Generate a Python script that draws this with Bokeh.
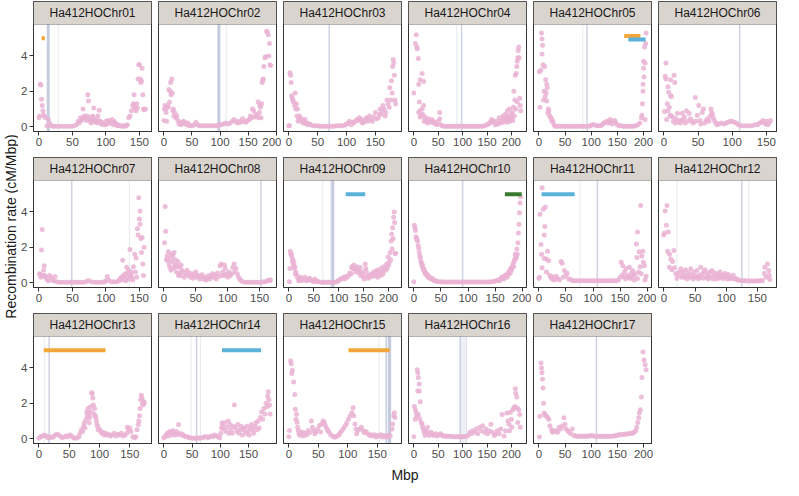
import math
from bokeh.plotting import figure
from bokeh.models import Range1d, FixedTicker, Span, BoxAnnotation, Label, ColumnDataSource
from bokeh.layouts import row, column
from bokeh.embed import file_html
from bokeh.resources import INLINE

chrom_names = ["Ha412HOChr%02d" % i for i in range(1, 18)]
chrom_len = [160, 191, 186, 220, 205, 157, 160, 168, 215, 198, 198, 172, 177, 190, 182, 220, 205]

chr01 = [(0,.5),(1,.6),(2,2.4),(3,2.35),(4,1.55),(5,1.2),(6,.9),(7,.65),(8,.6),(10,.5),(12,.05),(14,.4),(16,.2),(18,.05),(21,.02),(24,.02),(28,.02),(32,.02),(36,.02),(40,.02),(44,.02),(48,.02),(52,.03),(56,.1),(59,.3),(60,.2),(62,.5),(63,.35),(64,.4),(65,.45),(66,1.0),(67,.55),(68,.6),(69,.45),(70,.5),(71,.35),(72,.6),(73,1.8),(74,1.45),(75,.4),(76,.5),(77,.3),(78,.2),(79,.35),(80,.6),(81,.5),(82,1.05),(83,.3),(84,.4),(85,.25),(86,.3),(87,.2),(88,.6),(89,.35),(90,.92),(91,.25),(92,.3),(93,.15),(94,.2),(95,.2),(97,.1),(99,.1),(100,.3),(102,.15),(103,.35),(105,.3),(106,.2),(108,.25),(109,.4),(111,.1),(112,.3),(114,.2),(115,.15),(117,.05),(118,.1),(120,.05),(122,.05),(124,.02),(126,.05),(128,.02),(130,.05),(132,.1),(134,.5),(136,.6),(138,.9),(140,1.2),(141,1.3),(142,1.8),(143,1.1),(144,1.0),(145,.9),(146,1.3),(147,1.05),(148,2.7),(149,3.5),(150,3.5),(151,2.7),(152,2.5),(153,2.6),(154,3.3),(155,1.8),(156,1.0),(157,.95),(159,1.0)]
chr02 = [(0,.35),(1,1.0),(2,1.2),(3,1.0),(4,.8),(5,.3),(7,1.2),(8,1.1),(9,2.1),(10,1.4),(11,2.0),(12,2.5),(13,1.8),(14,2.7),(15,1.9),(16,.9),(17,1.0),(18,.6),(20,.75),(21,.5),(23,.6),(25,.35),(27,.15),(29,.25),(31,.1),(33,.2),(35,.3),(37,.25),(39,.15),(41,.1),(43,.2),(45,.05),(48,.05),(51,.05),(54,.1),(57,.25),(60,.1),(63,.05),(66,.05),(70,.05),(74,.05),(78,.05),(82,.05),(86,.05),(90,.05),(94,.05),(98,.1),(102,.1),(106,.15),(110,.2),(114,.15),(118,.2),(122,.3),(125,.4),(128,.3),(131,.2),(134,.3),(137,.25),(140,.45),(143,.3),(146,.25),(149,.35),(152,.4),(154,.6),(156,.5),(158,1.0),(160,.9),(162,.55),(164,.7),(166,.6),(168,1.4),(169,.5),(170,.8),(171,1.2),(172,1.1),(173,.5),(174,1.3),(175,2.5),(176,2.65),(177,2.7),(178,3.4),(180,3.9),(181,3.95),(183,5.4),(184,5.35),(186,5.2),(187,4.0),(188,4.7),(189,3.5),(190,3.45)]
chr03 = [(0,.05),(1,.05),(2,3.05),(3,2.9),(4,2.5),(5,1.75),(6,1.6),(7,1.5),(8,1.4),(10,1.2),(11,1.9),(12,1.0),(13,1.3),(14,.6),(15,1.0),(16,.3),(17,.45),(18,.6),(20,.5),(22,.3),(24,.4),(25,.2),(27,.25),(28,.4),(30,.15),(32,.2),(34,.1),(36,.15),(38,.1),(42,.05),(46,.05),(50,.05),(54,.02),(58,.02),(62,.02),(66,.02),(70,.02),(74,.02),(78,.02),(82,.05),(86,.05),(90,.05),(94,.05),(98,.1),(100,.15),(103,.2),(105,.3),(108,.1),(110,.25),(112,.2),(115,.3),(118,.4),(120,.35),(122,.5),(124,.45),(125,.4),(127,.25),(128,.2),(130,.35),(132,.3),(134,.45),(135,.5),(137,.3),(140,.6),(142,.4),(145,.3),(147,.55),(150,.8),(152,.45),(155,.5),(157,.7),(158,1.0),(160,.7),(162,.9),(163,1.2),(165,1.0),(167,.6),(168,.8),(170,1.5),(172,1.3),(174,1.1),(175,2.2),(177,1.5),(178,2.6),(179,1.9),(180,3.4),(181,3.8),(182,3.6),(183,2.9),(184,1.5),(185,1.3)]
chr04 = [(0,1.9),(3,4.7),(5,5.2),(6,4.5),(7,4.4),(9,3.85),(10,2.4),(10,.8),(11,1.4),(12,.9),(13,2.65),(13,.55),(15,.6),(17,3.0),(17,1.0),(18,.7),(20,2.55),(20,1.2),(21,.3),(23,.55),(25,.4),(27,.35),(28,.2),(30,.45),(32,.3),(34,.25),(37,.4),(39,.3),(41,.2),(43,.25),(45,.15),(47,.1),(50,.3),(53,.8),(53,.45),(55,.1),(58,.05),(62,.02),(66,.02),(70,.02),(74,.02),(78,.02),(82,.02),(86,.02),(90,.02),(94,.02),(98,.02),(102,.02),(106,.02),(110,.02),(114,.02),(118,.02),(122,.02),(126,.02),(130,.02),(134,.02),(138,.02),(142,.02),(146,.05),(150,.1),(153,.15),(155,.2),(158,.3),(160,.4),(162,.25),(164,.3),(167,.1),(170,.3),(172,.15),(175,.5),(177,.3),(178,.2),(180,.35),(182,.25),(183,.6),(185,.3),(187,.45),(188,.7),(190,.4),(191,.25),(192,.9),(193,.6),(194,.5),(196,1.0),(197,.3),(198,.4),(200,.7),(201,.5),(202,.8),(203,.35),(204,1.1),(205,2.0),(206,.6),(207,1.5),(208,2.9),(209,1.0),(210,3.0),(211,3.4),(212,3.7),(212,1.4),(213,3.9),(214,4.3),(215,4.5),(216,3.9),(217,1.6),(218,1.2),(219,.9)]
chr05 = [(1,3.1),(2,1.1),(4,3.2),(5,5.3),(6,4.95),(6,4.1),(7,4.6),(8,3.5),(9,1.5),(10,2.0),(11,3.4),(12,1.7),(13,2.65),(14,1.9),(15,2.4),(15,1.45),(16,2.2),(17,.8),(18,1.0),(19,.9),(20,.65),(22,.55),(24,.45),(25,.3),(27,.3),(29,.1),(31,.02),(35,.02),(39,.02),(43,.02),(47,.02),(51,.02),(55,.02),(59,.02),(63,.02),(67,.02),(71,.02),(75,.02),(79,.02),(83,.02),(87,.02),(91,.02),(95,.02),(99,.05),(102,.1),(106,.1),(110,.05),(114,.05),(118,.05),(121,.1),(124,.2),(127,.25),(130,.3),(132,.2),(134,.25),(136,.4),(138,.3),(140,.15),(142,.3),(145,.35),(147,.2),(150,.1),(153,.05),(157,.05),(161,.02),(165,.02),(169,.02),(173,.02),(177,.02),(181,.02),(185,.05),(189,.1),(193,.2),(196,.5),(197,.65),(198,1.3),(199,2.0),(199,2.4),(200,3.3),(200,3.7),(201,2.8),(202,4.5),(203,3.6),(203,.4),(204,4.7),(205,5.3)]
chr06 = [(1,.85),(2,2.85),(3,3.6),(3,2.7),(4,.4),(5,1.3),(6,2.25),(6,.9),(7,1.95),(8,1.1),(9,.6),(10,2.65),(10,1.75),(10,.65),(11,1.7),(13,.55),(14,.3),(15,2.9),(16,2.5),(17,.2),(18,.45),(20,.75),(22,.3),(24,.2),(25,.35),(27,.75),(28,.4),(30,.55),(31,.2),(33,.9),(35,.3),(37,.75),(39,.45),(41,.3),(43,.2),(46,1.65),(47,.3),(49,.65),(51,1.2),(53,.35),(54,.15),(56,.8),(58,1.0),(60,.2),(62,.35),(64,.45),(66,.3),(68,.6),(69,1.0),(70,.8),(71,.7),(72,.5),(74,.35),(76,.2),(78,.1),(81,.15),(84,.2),(88,.15),(91,.2),(94,.25),(97,.3),(100,.3),(103,.25),(106,.2),(109,.1),(113,.05),(117,.05),(121,.05),(125,.05),(129,.05),(133,.1),(137,.1),(140,.2),(143,.25),(145,.35),(147,.2),(149,.15),(150,.3),(152,.1),(154,.2),(156,.35)]
chr07 = [(1,.5),(2,.45),(3,.3),(4,1.85),(5,3.0),(6,.4),(7,.7),(8,.95),(9,.4),(10,.3),(12,.2),(14,.1),(16,.4),(18,.3),(20,.15),(22,.1),(24,.35),(26,.05),(30,.02),(34,.02),(38,.02),(42,.02),(46,.02),(50,.02),(54,.02),(58,.02),(62,.02),(66,.02),(70,.05),(74,.12),(78,.05),(82,.02),(86,.02),(90,.02),(94,.02),(98,.05),(100,.1),(102,.35),(104,.15),(108,.05),(112,.05),(116,.05),(119,.1),(121,.2),(123,.3),(124,.15),(125,1.27),(126,.4),(128,.2),(129,.5),(130,.1),(131,.87),(132,.3),(133,.55),(134,.7),(135,.2),(136,1.87),(137,.45),(138,.6),(139,.3),(140,.15),(141,.9),(143,1.6),(144,.6),(145,1.4),(146,.3),(147,3.05),(148,2.7),(149,4.8),(150,3.6),(151,4.05),(151,3.3),(152,2.5),(153,1.7),(154,2.55),(155,1.05),(156,.4),(157,2.0)]
chr08 = [(1,2.25),(2,4.3),(3,2.9),(4,1.3),(5,1.5),(6,1.3),(7,1.75),(8,1.1),(9,.9),(10,1.4),(11,.7),(12,1.6),(13,1.2),(14,1.5),(15,.8),(16,1.7),(17,1.0),(18,1.3),(19,1.0),(20,.6),(21,.9),(22,1.2),(23,.4),(24,.5),(25,.9),(26,.4),(27,1.0),(28,.7),(30,.6),(32,.3),(34,.5),(36,.7),(38,.4),(40,.55),(42,.3),(44,.5),(46,.25),(48,.45),(50,.6),(52,.3),(54,.4),(56,.2),(58,.35),(60,.45),(62,.2),(64,.3),(66,.15),(68,.25),(70,.4),(72,.2),(74,.35),(76,.5),(78,.3),(80,.45),(82,.2),(84,.55),(86,.35),(88,.95),(90,1.05),(91,.4),(92,.6),(94,.4),(95,1.0),(96,.8),(98,.5),(100,.3),(102,.6),(104,.4),(106,.5),(108,.85),(110,1.05),(111,.6),(113,.8),(115,.5),(117,.3),(119,.2),(121,.1),(124,.05),(128,.02),(132,.02),(136,.02),(140,.02),(144,.02),(148,.02),(152,.02),(156,.05),(159,.05),(162,.1),(164,.15),(166,.1),(167,.15)]
chr09 = [(1,.05),(2,.8),(3,1.77),(4,1.6),(5,1.6),(6,1.45),(7,1.2),(8,1.3),(9,1.0),(10,1.15),(11,.8),(12,.9),(13,.5),(14,.6),(16,.4),(18,.25),(20,.1),(21,.15),(23,.3),(25,.1),(27,.2),(29,.15),(32,.3),(35,.1),(38,.15),(40,.2),(42,.25),(45,.1),(47,.1),(50,.05),(52,.2),(55,.1),(57,.05),(60,.05),(64,.02),(68,.02),(72,.02),(76,.02),(80,.02),(84,.02),(88,.02),(92,.02),(96,.05),(99,.1),(101,.15),(104,.2),(107,.25),(110,.3),(112,.2),(114,.35),(117,.3),(120,.4),(122,.55),(125,.5),(126,.85),(127,.9),(129,.8),(130,1.0),(131,.75),(133,.8),(134,.6),(136,.9),(138,.75),(140,.7),(141,.55),(143,.85),(144,.4),(146,.6),(148,.5),(149,.35),(151,.2),(153,1.05),(154,.8),(155,.65),(157,.4),(159,.25),(161,.3),(163,.45),(166,.5),(168,.35),(170,.6),(172,.45),(174,.4),(175,.65),(177,.7),(178,.3),(180,.5),(182,.6),(184,.8),(185,.4),(187,.6),(189,.5),(190,.9),(192,.75),(194,.7),(196,1.05),(197,.8),(199,1.45),(200,1.0),(201,1.15),(203,1.7),(204,1.3),(205,2.35),(206,2.75),(207,1.9),(208,3.1),(209,2.5),(210,3.7),(211,4.0),(212,3.4),(213,1.65),(214,1.65)]
chr10 = [(0,.05),(1,3.25),(2,3.1),(3,2.95),(4,2.6),(5,2.5),(6,2.4),(7,2.35),(8,2.1),(9,1.95),(10,1.7),(11,1.5),(12,1.4),(13,1.2),(14,1.1),(15,.95),(16,1.0),(17,.8),(18,.7),(19,.75),(20,.6),(21,.5),(22,.55),(24,.4),(25,.45),(26,.3),(28,.35),(30,.25),(32,.2),(34,.25),(36,.15),(38,.1),(40,.1),(42,.08),(45,.05),(49,.05),(53,.03),(57,.03),(61,.03),(65,.03),(69,.03),(73,.03),(77,.03),(81,.03),(85,.03),(89,.03),(93,.03),(97,.03),(101,.03),(105,.03),(109,.03),(113,.03),(117,.03),(121,.03),(125,.03),(129,.03),(133,.03),(137,.03),(141,.05),(145,.05),(149,.08),(152,.1),(155,.15),(158,.1),(160,.2),(162,.3),(164,.3),(166,.2),(168,.4),(170,.45),(172,.3),(173,.4),(175,.6),(176,.5),(177,.7),(178,.55),(179,.8),(180,.7),(181,.85),(182,.9),(183,1.05),(184,.9),(185,1.2),(186,1.3),(187,1.6),(188,1.45),(189,1.4),(190,1.9),(191,1.6),(192,2.25),(193,2.8),(194,3.3),(195,3.95),(196,4.5),(197,4.85)]
chr11 = [(0,.24),(1,.3),(2,3.87),(4,2.15),(5,1.6),(6,5.36),(6,.84),(8,4.15),(10,2.7),(10,1.36),(11,3.18),(12,4.27),(14,1.33),(14,.6),(16,1.78),(18,1.24),(20,.42),(22,.3),(24,.2),(26,.33),(28,.15),(30,.2),(32,.36),(35,.24),(38,.15),(41,1.2),(43,1.09),(45,.3),(47,.69),(50,.42),(52,.55),(55,.2),(59,.18),(63,.1),(67,.1),(71,.1),(75,.1),(79,.1),(83,.1),(87,.1),(91,.1),(95,.1),(99,.1),(103,.1),(107,.1),(111,.1),(115,.1),(119,.1),(123,.1),(127,.1),(131,.1),(135,.1),(139,.1),(143,.1),(147,.15),(150,.3),(152,1.15),(154,.42),(155,.96),(157,.3),(158,.6),(160,.2),(161,.78),(163,.4),(165,.3),(167,.87),(169,.24),(170,.51),(172,.3),(173,.69),(175,.42),(176,.15),(178,.5),(180,2.18),(181,1.42),(182,2.87),(182,.24),(184,.6),(185,1.75),(187,.9),(188,4.36),(189,.5),(190,1.5),(192,1.78),(193,1.15),(195,.96),(196,.15),(198,.36)]
chr12 = [(0,2.7),(1,2.8),(2,4.05),(4,3.24),(5,4.36),(6,1.78),(7,2.87),(9,1.6),(9,.87),(11,1.33),(13,.73),(14,1.2),(16,1.82),(17,.84),(19,.51),(21,.24),(23,.4),(25,.6),(27,.78),(29,.3),(30,.42),(32,.6),(34,.3),(35,.73),(37,.2),(38,.42),(40,.55),(42,.3),(43,.78),(45,.42),(47,.2),(48,.6),(50,.3),(51,.36),(53,.69),(55,.2),(56,.42),(58,.3),(59,.87),(61,.47),(63,.25),(64,.6),(66,.73),(68,.3),(69,.51),(71,.2),(72,.36),(74,.6),(76,.3),(77,.69),(79,.2),(80,.42),(82,.55),(84,.2),(85,.33),(87,.47),(88,.25),(90,.6),(92,.3),(93,.42),(95,.24),(97,.3),(98,.51),(100,.36),(102,.2),(103,.47),(105,.25),(106,.33),(108,.24),(111,.42),(113,.2),(116,.24),(118,.15),(121,.15),(124,.12),(127,.1),(130,.1),(133,.1),(137,.09),(140,.09),(143,.09),(146,.09),(149,.09),(152,.1),(155,.1),(158,.1),(161,.51),(162,.87),(164,.3),(166,1.05),(168,.69),(169,.42),(170,.18)]
chr13 = [(0,.02),(3,.1),(6,.15),(9,.2),(12,.15),(15,.05),(18,.1),(21,.05),(24,.1),(27,.2),(30,.25),(33,.2),(36,.1),(39,.05),(42,.1),(45,.15),(48,.1),(51,.2),(54,.15),(57,.05),(60,.02),(63,.05),(66,.1),(68,.3),(70,.5),(72,.4),(74,.7),(75,.9),(76,.6),(78,1.1),(79,1.5),(80,1.3),(81,1.7),(82,1.4),(83,.9),(84,1.2),(85,1.8),(86,1.5),(87,2.6),(88,2.55),(89,2.3),(90,1.9),(91,1.4),(92,1.7),(93,1.3),(94,1.2),(95,1.0),(96,.8),(97,.7),(98,.5),(100,.55),(102,.4),(104,.3),(106,.35),(108,.2),(110,.3),(112,.2),(115,.25),(118,.15),(121,.2),(124,.3),(127,.15),(130,.25),(133,.2),(136,.3),(139,.15),(142,.2),(145,.3),(146,.65),(148,.5),(150,.6),(152,.4),(155,.1),(158,.05),(160,.1),(162,.5),(164,.8),(165,1.0),(166,1.3),(167,1.7),(168,2.2),(169,2.45),(170,2.3),(171,2.0),(172,1.9),(173,2.1),(174,2.0)]
chr14 = [(0,.05),(2,.1),(4,.2),(6,.3),(8,.15),(10,.4),(12,.35),(14,.2),(16,.45),(18,.3),(20,.2),(22,.4),(24,.25),(26,.8),(28,.3),(30,.2),(33,.25),(36,.15),(39,.1),(42,.1),(45,.05),(48,.05),(51,.02),(54,.02),(57,.02),(60,.05),(63,.02),(66,.05),(69,.05),(72,.1),(75,.1),(78,.05),(81,.1),(84,.15),(87,.1),(90,.2),(93,.15),(96,.1),(99,.05),(101,.3),(102,.6),(103,.9),(104,.75),(106,.55),(108,.9),(110,.4),(112,.65),(114,1.0),(115,.3),(117,.8),(119,.5),(121,.3),(123,.7),(125,1.9),(127,.6),(129,.4),(131,.8),(133,.3),(135,.5),(137,.7),(139,.2),(141,.5),(143,.6),(145,.3),(147,.7),(149,.4),(151,.2),(153,.6),(155,.8),(157,.5),(159,.3),(161,.7),(163,.9),(165,.5),(167,1.0),(169,.6),(171,1.2),(173,1.5),(175,1.1),(177,1.7),(179,1.4),(181,2.0),(183,1.8),(184,2.4),(185,2.65),(186,2.2),(187,1.9),(188,1.4)]
chr15 = [(0,.1),(1,.46),(3,4.4),(4,4.24),(5,3.68),(6,3.87),(8,3.2),(10,2.49),(11,1.66),(12,1.1),(13,1.38),(14,.92),(15,.65),(16,.46),(17,.28),(19,.18),(21,.37),(23,.28),(25,.15),(27,.33),(30,.22),(33,.46),(35,.33),(38,1.0),(40,.65),(42,.46),(44,.28),(46,.37),(49,.55),(52,.74),(54,.37),(56,.83),(58,1.0),(60,.92),(62,.74),(64,.59),(66,.46),(68,.37),(71,.22),(74,.15),(77,.09),(79,.09),(82,.15),(85,.22),(87,.33),(90,.46),(93,.59),(96,.74),(98,.88),(101,1.1),(104,1.29),(107,1.47),(109,1.75),(110,1.29),(112,.83),(114,.55),(115,.28),(117,.46),(120,.55),(123,.65),(126,.46),(128,.33),(131,.4),(134,.28),(137,.18),(139,.22),(142,.15),(145,.22),(148,.09),(150,.18),(153,.15),(156,.22),(158,.09),(161,.18),(164,.09),(167,.18),(169,.09),(172,.18),(175,.55),(176,.83),(178,1.29),(179,1.47),(180,1.2)]
chr16 = [(0,.1),(1,1.82),(3,1.64),(3,1.09),(5,1.45),(6,1.27),(7,3.9),(8,3.73),(8,2.69),(9,3.45),(9,1.36),(11,3.09),(11,2.69),(12,1.13),(13,2.09),(15,.91),(17,.82),(18,.64),(20,.51),(21,.36),(23,.18),(25,.45),(27,.36),(28,.64),(30,.27),(32,.18),(35,.36),(38,.27),(41,.18),(45,.27),(48,.15),(51,.22),(55,.27),(58,.18),(61,.15),(65,.15),(68,.13),(71,.13),(75,.13),(78,.12),(81,.11),(85,.11),(88,.11),(91,.11),(95,.11),(98,.11),(101,.11),(105,.12),(108,.13),(111,.18),(115,.36),(118,.27),(121,.45),(125,.36),(128,.55),(131,.27),(135,.64),(138,.45),(141,.73),(145,.36),(148,.55),(151,.27),(155,.45),(158,.82),(161,.36),(165,.18),(168,.27),(171,.45),(175,.27),(178,.55),(181,1.36),(185,.15),(188,.45),(191,1.45),(193,1.0),(195,.82),(196,.45),(198,1.49),(200,1.09),(201,.64),(203,1.64),(205,1.73),(207,1.82),(208,2.82),(209,2.55),(211,2.36),(212,1.73),(213,.91),(215,1.64),(217,1.36),(218,.64)]
chr17 = [(1,.09),(2,1.27),(4,4.27),(5,4.0),(6,3.73),(7,3.36),(8,2.87),(9,2.0),(10,1.45),(11,1.36),(13,1.31),(15,1.27),(17,1.18),(19,1.09),(21,.73),(24,.51),(26,.36),(27,.45),(30,.4),(33,.45),(36,.36),(39,.64),(42,.55),(45,.73),(48,1.18),(50,.82),(52,.55),(55,.45),(58,.36),(61,.27),(64,.55),(67,.18),(70,.15),(73,.13),(76,.13),(80,.13),(83,.13),(86,.13),(89,.13),(92,.13),(95,.15),(98,.15),(101,.18),(104,.15),(107,.13),(110,.13),(114,.13),(117,.13),(120,.13),(123,.13),(126,.13),(129,.13),(132,.13),(135,.13),(138,.13),(142,.15),(145,.15),(148,.18),(151,.2),(154,.22),(157,.22),(160,.25),(163,.25),(166,.25),(169,.27),(173,.27),(176,.3),(179,.31),(182,.36),(185,.45),(187,.64),(189,.91),(191,1.18),(192,1.45),(194,1.64),(196,2.36),(197,3.45),(199,4.9),(201,4.45),(203,4.18),(205,3.9)]
rates = [chr01, chr02, chr03, chr04, chr05, chr06, chr07, chr08, chr09,
         chr10, chr11, chr12, chr13, chr14, chr15, chr16, chr17]

# centromere / feature lines: chromosome (1-based), position (Mbp), style
line_chrom = [1, 1, 2, 2, 3, 4, 4, 5, 5, 6, 7, 7, 8, 9, 9, 9, 10, 11, 11, 12, 12, 12, 13, 13, 14, 14, 14, 15, 15, 15, 16, 16, 17]
line_pos = [14, 29, 98, 111, 70, 88, 98, 84, 92, 111, 49, 135, 152, 68, 84, 88, 90, 76, 108, 21, 125, 136, 9, 17, 48, 58, 65, 153, 165, 171, 95, 108, 110]
line_kind = ["h", "l", "h", "l", "m", "l", "m", "l", "m", "m", "m", "l", "m", "l", "l", "h", "m", "l", "m", "l", "m", "l", "l", "m", "l", "m", "l", "l", "m", "h", "m", "l", "m"]
shade_chrom = [15, 16]
shade_start = [165, 95]
shade_end = [171, 108]

# horizontal bars at top of panels
bar_chrom = [1, 5, 5, 9, 10, 11, 13, 14, 15]
bar_start = [4, 163, 171, 114, 168, 5, 8, 103, 101]
bar_end = [9, 194, 204, 153, 199, 66, 110, 172, 171]
bar_y = [5.0, 5.12, 4.92, 5.0, 5.0, 5.0, 5.0, 5.0, 5.0]
bar_group = ["orange", "orange", "blue", "blue", "green", "blue", "orange", "blue", "orange"]

BAR_COLORS = {"orange": "#F3A73A", "blue": "#5AB2D9", "green": "#3A7A30"}
LINE_STYLE = {"h": (3.0, 0.6), "m": (1.5, 0.5), "l": (1.0, 0.25)}
LINE_COLOR = "#9FAACB"
POINT_COLOR = "#EAB3D4"
STRIP_FILL = "#DAD4CF"
BORDER = "#333333"
TICK_TEXT = "#4D4D4D"
FONT = "Liberation Sans"

FW, PH, SH = 118, 107, 23
YLAB_W, LEFT0, LEFT, RIGHT = 18, 15, 2, 5
TOP, BOT12, BOT3 = 1, 25, 21
Y_MAX = 5.5
y_lo, y_hi = -0.05 * Y_MAX, 1.05 * Y_MAX
y_top = y_hi + SH * (y_hi - y_lo) / PH

figs = []
for i, name in enumerate(chrom_names):
    r, c = divmod(i, 6)
    L = chrom_len[i]
    xs, xe = -0.05 * L, 1.05 * L
    p = figure(frame_width=FW, frame_height=PH + SH,
               x_range=Range1d(xs, xe), y_range=Range1d(y_lo, y_top),
               output_backend="svg", toolbar_location=None, tools="",
               min_border_left=LEFT0 if c == 0 else LEFT, min_border_right=RIGHT,
               min_border_top=TOP, min_border_bottom=BOT12 if r < 2 else BOT3,
               y_axis_location="left" if c == 0 else None,
               background_fill_color="white", border_fill_color="white")
    p.grid.visible = False
    p.outline_line_color = BORDER
    p.outline_line_width = 1
    for ax in p.axis:
        ax.minor_tick_line_color = None
        ax.major_tick_in = 0
        ax.major_tick_out = 4
        ax.axis_line_color = BORDER
        ax.major_tick_line_color = BORDER
        ax.major_label_text_font = FONT
        ax.major_label_text_font_size = "11.5px"
        ax.major_label_text_color = TICK_TEXT
        ax.major_label_standoff = 2
    p.xaxis.ticker = FixedTicker(ticks=[0, 50, 100, 150, 200])
    if c == 0:
        p.yaxis.ticker = FixedTicker(ticks=[0, 2, 4])

    for k in range(len(shade_chrom)):
        if shade_chrom[k] == i + 1:
            p.add_layout(BoxAnnotation(left=shade_start[k], right=shade_end[k], bottom=y_lo, top=y_hi,
                                       fill_color="#C8CEE2", fill_alpha=0.3, line_color=None,
                                       level="underlay"))
    for k in range(len(line_chrom)):
        if line_chrom[k] == i + 1:
            w, a = LINE_STYLE[line_kind[k]]
            p.add_layout(Span(location=line_pos[k], dimension="height", line_color=LINE_COLOR,
                              line_width=w, line_alpha=a, level="underlay"))

    src = ColumnDataSource(dict(pos=[t[0] for t in rates[i]], rate=[t[1] for t in rates[i]]))
    p.scatter("pos", "rate", source=src, size=5, fill_color=POINT_COLOR, fill_alpha=0.85,
              line_color=None)

    idx = [k for k in range(len(bar_chrom)) if bar_chrom[k] == i + 1]
    if idx:
        bsrc = ColumnDataSource(dict(x0=[bar_start[k] for k in idx], x1=[bar_end[k] for k in idx],
                                     y=[bar_y[k] for k in idx],
                                     color=[BAR_COLORS[bar_group[k]] for k in idx]))
        p.segment(x0="x0", y0="y", x1="x1", y1="y", source=bsrc, line_width=4, line_color="color")

    p.add_layout(BoxAnnotation(left=xs, right=xe, bottom=y_hi, top=y_top, fill_color=STRIP_FILL,
                               fill_alpha=1.0, line_color=BORDER, line_width=1))
    p.add_layout(Label(x=(xs + xe) / 2, y=(y_hi + y_top) / 2, text=name, text_align="center",
                       text_baseline="middle", text_font=FONT, text_font_size="12px",
                       text_color="#1A1A1A"))
    figs.append(p)

grid_w = LEFT0 + FW + RIGHT + 5 * (LEFT + FW + RIGHT)
row12_h = TOP + PH + SH + BOT12
row3_h = TOP + PH + SH + BOT3
grid_h = 2 * row12_h + row3_h

pm = figure(width=grid_w, height=20, x_range=Range1d(0, grid_w), y_range=Range1d(0, 1),
            output_backend="svg", toolbar_location=None, tools="", min_border=0,
            x_axis_location=None, y_axis_location=None, outline_line_color=None)
pm.grid.visible = False
pm.add_layout(Label(x=LEFT0 + (6 * FW + 5 * (LEFT + RIGHT)) / 2, y=0.5, text="Mbp",
                    text_align="center", text_baseline="middle", text_font=FONT,
                    text_font_size="14px", text_color="#1A1A1A"))

py = figure(width=YLAB_W, height=grid_h, x_range=Range1d(0, YLAB_W), y_range=Range1d(0, grid_h),
            output_backend="svg", toolbar_location=None, tools="", min_border=0,
            x_axis_location=None, y_axis_location=None, outline_line_color=None)
py.grid.visible = False
py.add_layout(Label(x=YLAB_W / 2 + 1, y=grid_h - (row12_h + TOP + (PH + SH) / 2) - 4,
                    text="Recombination rate (cM/Mbp)", angle=math.pi / 2,
                    text_align="center", text_baseline="middle", text_font=FONT,
                    text_font_size="14px", text_color="#1A1A1A"))

grid = column(row(*figs[0:6]), row(*figs[6:12]), row(*figs[12:17]), pm)
layout = row(py, grid)
open("out.html", "w").write(file_html(layout, INLINE))
